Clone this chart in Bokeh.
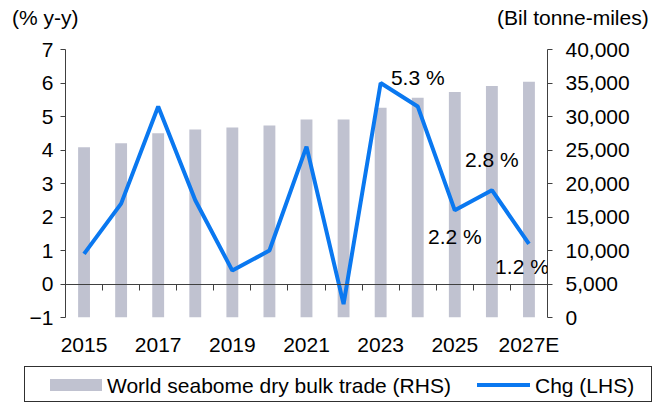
from bokeh.plotting import figure
from bokeh.layouts import column
from bokeh.models import (Range1d, LinearAxis, FixedTicker, NumeralTickFormatter,
                          CustomJSTickFormatter, ColumnDataSource, Label, Div)
from bokeh.embed import file_html
from bokeh.resources import INLINE

years = ["2015", "2016", "2017", "2018", "2019", "2020", "2021",
         "2022", "2023", "2024", "2025", "2026", "2027E"]
trade = [25400, 26000, 27500, 28050, 28350, 28650, 29550,
         29550, 31300, 32800, 33650, 34550, 35200]
chg = [0.9, 2.4, 5.3, 2.5, 0.4, 1.0, 4.1, -0.6, 6.0, 5.3, 2.2, 2.8, 1.2]
label_idx = [9, 10, 11, 12]
label_text = ["5.3 %", "2.2 %", "2.8 %", "1.2 %"]
label_y = [6.15, 1.43, 3.73, 0.51]
left_ticks = [-1, 0, 1, 2, 3, 4, 5, 6, 7]
right_ticks = [0, 5000, 10000, 15000, 20000, 25000, 30000, 35000, 40000]
series_names = ["World seabome dry bulk trade (RHS)", "Chg (LHS)"]
axis_titles = ["(% y-y)", "(Bil tonne-miles)"]

FONT = "Liberation Sans"
FS = "21px"
AX = "#404040"
BAR_COLOR = "#C0C2D0"
LINE_COLOR = "#0A78F0"
W = 667

x = list(range(len(years)))
src = ColumnDataSource(dict(x=x, trade=trade, chg=chg))

# ---- title strip ----
css_font = (f"font-family:&quot;{FONT}&quot;,Arial,sans-serif;font-size:{FS};"
            "color:black;line-height:24px;white-space:nowrap;")
top = Div(width=W, height=36, margin=(0, 0, 0, 0), text=(
    f"<div style='position:relative;width:{W}px;height:36px;'>"
    f"<span style='position:absolute;left:12px;top:6px;{css_font}'>{axis_titles[0]}</span>"
    f"<span style='position:absolute;left:497px;top:6px;{css_font}'>{axis_titles[1]}</span>"
    "</div>"))

# ---- main chart ----
p = figure(width=W, height=326, output_backend="svg", toolbar_location=None,
           x_range=Range1d(-0.5, len(years) - 0.5), y_range=Range1d(-1, 7),
           min_border_left=65, min_border_right=120, min_border_top=13,
           min_border_bottom=45, margin=(0, 0, 0, 0))
p.extra_y_ranges = {"rhs": Range1d(0, 40000)}
p.outline_line_color = None
p.grid.visible = False

p.vbar(x="x", top="trade", bottom=0, width=0.32, source=src,
       y_range_name="rhs", fill_color=BAR_COLOR, line_color=None)
p.line(x="x", y="chg", source=src, line_color=LINE_COLOR, line_width=4)

ya = p.yaxis[0]
ya.ticker = FixedTicker(ticks=left_ticks)
ya.axis_line_color = AX
ya.major_tick_line_color = AX
ya.major_tick_in = 0
ya.major_tick_out = 5
ya.minor_tick_line_color = None
ya.major_label_text_font = FONT
ya.major_label_text_font_size = FS
ya.major_label_text_color = "black"
ya.major_label_standoff = 7

ra = LinearAxis(y_range_name="rhs", ticker=FixedTicker(ticks=right_ticks),
                formatter=NumeralTickFormatter(format="0,0"))
ra.axis_line_color = AX
ra.major_tick_line_color = AX
ra.major_tick_in = 0
ra.major_tick_out = 5
ra.minor_tick_line_color = None
ra.major_label_text_font = FONT
ra.major_label_text_font_size = FS
ra.major_label_text_color = "black"
ra.major_label_standoff = 13
p.add_layout(ra, "right")

xa = p.xaxis[0]
xa.ticker = FixedTicker(ticks=x[::2])
xa.major_label_overrides = {i: years[i] for i in x[::2]}
xa.axis_line_color = None
xa.major_tick_line_color = None
xa.minor_tick_line_color = None
xa.major_label_text_font = FONT
xa.major_label_text_font_size = FS
xa.major_label_text_color = "black"
xa.major_label_standoff = 9

za = LinearAxis(fixed_location=0, ticker=FixedTicker(ticks=[i + 0.5 for i in x[:-1]]),
                formatter=CustomJSTickFormatter(code="return ''"))
za.axis_line_color = AX
za.major_tick_line_color = AX
za.major_tick_in = 0
za.major_tick_out = 6
za.minor_tick_line_color = None
za.major_label_standoff = 0
p.add_layout(za, "below")

offsets = [0, 0, 0, -7]
for i, t, yy, dx in zip(label_idx, label_text, label_y, offsets):
    p.add_layout(Label(x=i, y=yy, text=t, text_font=FONT, text_font_size=FS,
                       text_color="black", text_align="center",
                       text_baseline="middle", x_offset=dx))

# ---- legend strip ----
leg = Div(width=W, height=42, margin=(0, 0, 0, 0), text=(
    f"<div style='position:relative;width:{W}px;height:42px;'>"
    "<div style='position:absolute;left:24px;top:4px;width:628px;height:36px;"
    "box-sizing:border-box;border:1px solid #303030;background:white;'>"
    f"<div style='position:absolute;left:25px;top:12px;width:52px;height:12px;background:{BAR_COLOR};'></div>"
    f"<span style='position:absolute;left:82px;top:7px;{css_font}'>{series_names[0]}</span>"
    f"<div style='position:absolute;left:452px;top:16px;width:53px;height:4px;background:{LINE_COLOR};'></div>"
    f"<span style='position:absolute;left:510px;top:7px;{css_font}'>{series_names[1]}</span>"
    "</div></div>"))

layout = column(top, p, leg, spacing=0)
open("out.html", "w").write(file_html(layout, INLINE))
